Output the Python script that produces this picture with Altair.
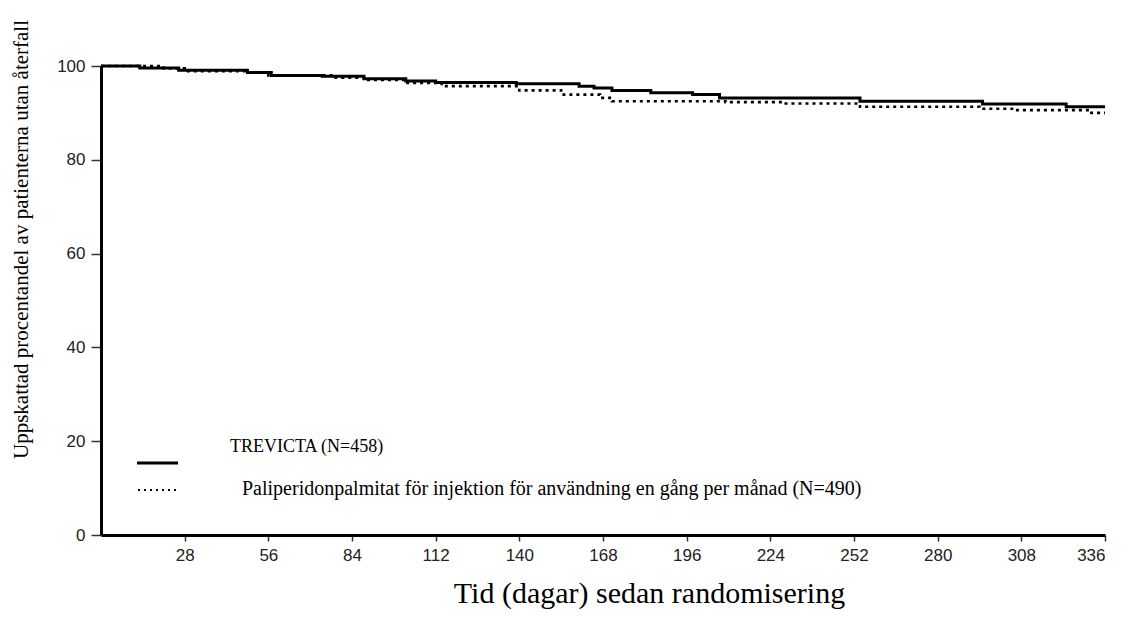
import altair as alt
import pandas as pd

# ---- data ----
series_names = [
    "TREVICTA (N=458)",
    "Paliperidonpalmitat för injektion för användning en gång per månad (N=490)",
]

trevicta_days = [0, 13, 26, 49, 57, 74, 88, 102, 112, 139, 160, 165, 171, 184, 198, 207, 254, 295, 323, 336]
trevicta_surv = [100, 99.6, 99.1, 98.6, 98.0, 97.8, 97.3, 96.8, 96.5, 96.2, 95.7, 95.3, 94.8, 94.3, 93.9, 93.2, 92.5, 91.9, 91.3, 91.3]

pp1m_days = [0, 21, 28, 48, 56, 78, 88, 102, 114, 140, 154, 167, 171, 209, 228, 254, 294, 306, 331, 336]
pp1m_surv = [100, 99.5, 98.9, 98.55, 98.0, 97.5, 97.0, 96.4, 95.7, 94.8, 93.9, 93.2, 92.5, 92.3, 92.0, 91.3, 90.9, 90.6, 90.0, 90.0]

x_ticks = [28, 56, 84, 112, 140, 168, 196, 224, 252, 280, 308, 336]
y_ticks = [0, 20, 40, 60, 80, 100]

x_title = "Tid (dagar) sedan randomisering"
y_title = "Uppskattad procentandel av patienterna utan återfall"

# ---- tables ----
df = pd.concat([
    pd.DataFrame({"day": trevicta_days, "surv": trevicta_surv, "series": series_names[0]}),
    pd.DataFrame({"day": pp1m_days, "surv": pp1m_surv, "series": series_names[1]}),
])
legend_df = pd.DataFrame({"series": series_names})

W, H = 1004, 469
SERIF = "Liberation Serif, Times New Roman, serif"

x_enc = alt.X(
    "day:Q",
    scale=alt.Scale(domain=[0, 336], nice=False, zero=True),
    axis=alt.Axis(
        values=x_ticks, title=x_title, grid=False,
        titleX=548, titleY=67, titleAlign="center", titleBaseline="alphabetic",
        titleFont=SERIF, titleFontSize=30, titleFontWeight="normal", titleColor="black",
        labelFont="Liberation Sans", labelFontSize=17, labelColor="#222", labelPadding=6,
        tickSize=6, tickWidth=1.5, tickColor="#333",
        domainWidth=3, domainColor="black",
    ),
)
y_enc = alt.Y(
    "surv:Q",
    scale=alt.Scale(domain=[0, 100], nice=False),
    axis=alt.Axis(
        values=y_ticks, title=y_title, grid=False,
        titleAngle=270, titleX=-80, titleY=173, titleAlign="center", titleBaseline="middle",
        titleFont=SERIF, titleFontSize=21, titleFontWeight="normal", titleColor="black",
        labelFont="Liberation Sans", labelFontSize=17, labelColor="#222", labelPadding=6,
        tickSize=10, tickWidth=1.5, tickColor="#333",
        domainWidth=3, domainColor="black",
    ),
)

base = alt.Chart(df)

solid = base.transform_filter(alt.datum.series == series_names[0]).mark_line(
    interpolate="step-after", color="black", strokeWidth=3
).encode(x=x_enc, y=y_enc)

dotted = base.transform_filter(alt.datum.series == series_names[1]).mark_line(
    interpolate="step-after", color="black", strokeWidth=2.6, strokeDash=[3, 4]
).encode(x=x_enc, y=y_enc)

leg = alt.Chart(legend_df)
leg_solid = leg.transform_filter(alt.datum.series == series_names[0]).mark_rule(
    color="black", strokeWidth=3
).encode(x=alt.value(36), x2=alt.value(77), y=alt.value(397))
leg_dot = leg.transform_filter(alt.datum.series == series_names[1]).mark_rule(
    color="black", strokeWidth=2, strokeDash=[2, 4]
).encode(x=alt.value(37), x2=alt.value(76), y=alt.value(424))
leg_txt1 = leg.transform_filter(alt.datum.series == series_names[0]).mark_text(
    font=SERIF, fontSize=18, align="left", baseline="middle", color="black"
).encode(x=alt.value(129), y=alt.value(381), text="series:N")
leg_txt2 = leg.transform_filter(alt.datum.series == series_names[1]).mark_text(
    font=SERIF, fontSize=20, align="left", baseline="middle", color="black"
).encode(x=alt.value(141), y=alt.value(423), text="series:N")

chart = alt.layer(solid, dotted, leg_solid, leg_dot, leg_txt1, leg_txt2).properties(
    width=W, height=H,
    autosize=alt.AutoSizeParams(type="none"),
    padding={"left": 93, "top": 58, "right": 10, "bottom": 75},
    background="white",
).configure_view(stroke=None)

chart.save("out.html", embed_options={"renderer": "svg", "actions": False})
